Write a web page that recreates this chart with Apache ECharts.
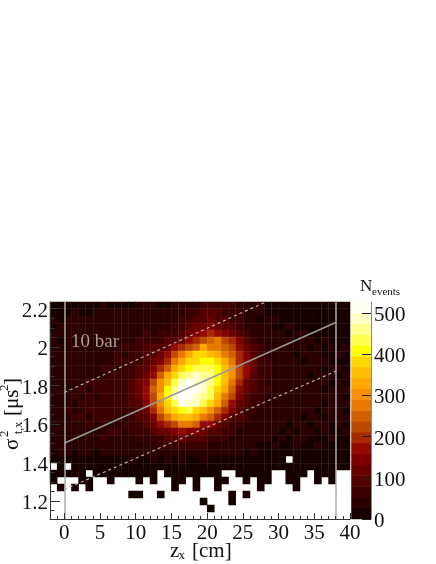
<!DOCTYPE html>
<html>
<head>
<meta charset="utf-8">
<style>html,body{margin:0;padding:0;background:#fff}#c{width:436px;height:564px}</style>
<script src="https://cdn.jsdelivr.net/npm/echarts@6/dist/echarts.min.js"></script>
</head>
<body>
<div id="c"></div>
<script>
// Bin labels (1 cm wide columns, 31 rows from the top of the plot downward)
const zBins = [-2,-1,0,1,2,3,4,5,6,7,8,9,10,11,12,13,14,15,16,17,18,19,20,21,22,23,24,25,26,27,28,29,30,31,32,33,34,35,36,37,38,39];
const rowLabels = ['r30','r29','r28','r27','r26','r25','r24','r23','r22','r21','r20','r19','r18','r17','r16','r15','r14','r13','r12','r11','r10','r9','r8','r7','r6','r5','r4','r3','r2','r1','r0'];
// Counts per cell, top row first; 0 = empty (white)
const counts = [
[22,18,20,24,19,21,25,27,23,20,24,26,29,33,28,25,24,31,36,42,47,58,70,66,74,62,49,38,30,27,24,21,18,23,20,19,22,17,21,16,19,18],
[24,21,26,28,23,25,30,32,28,27,33,35,38,41,34,31,36,44,52,60,66,83,95,88,79,71,58,45,36,29,26,23,21,25,22,20,24,19,23,25,21,20],
[28,25,30,33,27,34,38,31,35,41,37,44,39,47,43,36,30,45,62,71,84,98,112,96,88,76,63,41,29,24,31,27,22,20,24,23,26,21,18,22,24,23],
[26,31,29,35,33,38,31,42,36,40,45,38,48,44,52,37,49,58,74,90,106,128,140,122,99,82,68,52,38,34,30,26,23,27,25,22,21,24,20,26,25,22],
[30,27,33,30,36,41,35,37,44,47,41,50,46,55,48,60,57,72,92,118,145,168,190,178,145,112,87,64,47,38,35,31,28,24,27,29,26,23,25,22,24,21],
[32,24,35,31,38,36,42,45,40,48,50,47,58,64,70,72,85,100,125,165,210,235,258,280,235,190,135,95,62,45,38,32,29,33,25,28,30,24,27,21,26,23],
[29,27,34,38,33,42,37,45,50,46,55,60,68,80,85,95,130,160,195,235,262,330,285,268,240,215,170,130,90,60,46,36,31,27,34,30,25,28,22,29,24,27],
[36,30,33,40,35,39,46,43,52,58,50,64,70,80,100,125,165,220,275,320,375,385,360,320,280,250,195,150,100,70,52,41,35,30,26,33,29,34,26,23,28,22],
[33,38,31,36,42,37,44,50,47,56,62,68,75,92,112,155,205,270,330,370,395,410,415,390,325,275,205,155,110,75,55,44,32,37,29,24,31,27,30,25,22,26],
[40,34,38,43,36,48,41,54,60,52,66,72,80,105,155,195,255,325,385,415,425,440,430,405,350,295,225,165,115,70,58,40,36,29,33,27,35,30,24,28,30,24],
[35,42,39,37,47,44,52,48,63,70,64,76,92,130,180,260,330,395,430,465,480,470,455,420,365,300,230,160,105,76,54,47,34,38,31,36,26,33,28,32,25,29],
[44,38,36,50,42,58,53,61,72,57,62,80,108,145,215,290,365,425,490,505,495,480,470,415,350,270,190,130,90,64,50,43,39,30,35,28,34,27,31,24,33,26],
[41,46,52,40,55,48,66,59,74,63,68,88,112,165,240,315,400,470,515,520,505,490,440,395,320,245,180,120,85,68,57,41,36,44,32,38,30,35,25,31,28,34],
[48,43,39,57,45,62,50,72,56,68,58,84,108,170,235,330,410,475,520,515,490,470,425,350,285,215,150,105,78,55,46,39,42,33,37,29,36,28,32,27,30,25],
[37,52,44,47,60,54,70,58,66,76,70,80,105,155,225,310,385,440,505,495,475,440,385,320,250,180,125,90,66,58,43,48,35,30,40,33,27,37,26,34,29,31],
[45,40,55,49,43,65,57,74,62,58,66,68,92,130,195,270,345,395,410,430,390,360,310,255,190,140,95,74,60,47,40,36,32,38,28,35,31,25,33,29,38,24],
[38,47,42,53,58,48,62,54,71,65,52,58,80,105,150,215,270,335,360,355,320,275,250,195,145,105,80,62,50,44,37,42,29,34,30,26,36,28,24,31,27,35],
[43,35,50,45,39,56,46,60,52,48,63,57,70,85,115,170,210,235,275,280,245,170,160,130,95,75,66,48,41,36,33,28,38,25,31,34,24,29,33,23,30,26],
[33,41,36,46,51,40,49,43,55,62,47,58,54,70,85,110,130,150,170,155,135,120,105,90,70,59,52,44,34,38,30,35,26,30,22,27,32,24,28,26,23,29],
[39,30,44,35,38,47,41,53,37,45,50,42,56,50,60,75,95,105,110,100,95,80,70,60,64,48,41,37,32,29,34,25,28,23,27,31,22,26,24,30,25,21],
[28,36,32,40,34,30,43,38,46,41,37,48,44,52,47,55,62,68,72,65,60,58,50,46,42,39,36,30,33,26,24,29,21,25,28,20,23,27,19,22,26,24],
[25,30,27,24,33,29,26,35,31,28,36,34,30,38,33,41,37,44,40,38,43,36,39,32,35,30,27,24,28,22,26,19,23,20,24,18,21,25,20,17,22,19],
[18,22,24,20,17,23,26,21,19,25,22,27,24,20,28,23,30,25,27,22,26,29,24,21,25,20,23,19,22,18,20,17,21,0,19,16,20,18,22,15,17,19],
[0,14,0,12,15,11,16,13,10,14,17,12,15,11,13,16,18,14,12,15,13,17,11,14,16,10,12,15,11,13,14,10,12,9,13,11,8,12,14,10,9,11],
[7,5,8,4,6,0,5,7,3,6,4,8,5,6,7,0,6,4,5,7,3,6,8,4,0,0,5,3,6,4,7,0,0,5,3,6,0,4,5,3,0,0],
[3,0,0,0,2,4,0,0,3,0,0,0,2,0,3,0,0,2,4,0,3,0,0,2,3,0,0,4,0,2,3,0,0,2,4,0,0,3,0,2,0,0],
[0,2,0,3,0,2,0,0,0,0,0,0,0,0,0,0,0,3,0,0,2,0,0,2,0,0,0,0,0,3,0,0,0,0,2,0,0,0,0,0,0,0],
[0,0,0,0,0,0,0,0,0,0,0,2,1,0,0,2,0,0,0,0,0,0,0,0,0,1,0,2,0,0,0,0,0,0,0,0,0,0,0,0,0,0],
[0,0,0,0,0,0,0,0,0,0,0,0,0,0,0,0,0,0,0,0,0,1,0,0,0,2,0,0,0,0,0,0,0,0,0,0,0,0,0,0,0,0],
[0,0,0,0,0,0,0,0,0,0,0,0,0,0,0,0,0,0,0,0,0,0,1,0,0,0,0,0,0,0,0,0,0,0,0,0,0,0,0,0,0,0],
[0,0,0,0,0,0,0,0,0,0,0,0,0,0,0,0,0,0,0,0,0,0,0,0,0,0,0,0,0,0,0,0,0,0,0,0,0,0,0,0,0,0]
];
// Colour scale: 20 bands from 0 to scaleMax
const scaleMax = 527;
const palette = ['#170000','#2a0000','#3c0000','#520000','#690000','#800000','#920a00','#a82800','#bd4800','#d06000','#e87800','#f59000','#ffa800','#ffbe00','#ffd800','#ffff00','#ffff50','#ffff90','#ffffc8','#fffff5'];
const scaleBands = [13,39,66,92,118,145,171,197,224,250,276,303,329,356,382,408,435,461,487,514];
const bandNames = ['b0','b1','b2','b3','b4','b5','b6','b7','b8','b9','b10','b11','b12','b13','b14','b15','b16','b17','b18','b19'];
// Axes
const zRange = [-2, 40];
const sigmaRange = [1.1065, 2.2338];
const zMajor = [0,5,10,15,20,25,30,35,40];
const zMinor = [-2,-1,1,2,3,4,6,7,8,9,11,12,13,14,16,17,18,19,21,22,23,24,26,27,28,29,31,32,33,34,36,37,38,39];
const sigmaMajor = [1.2,1.4,1.6,1.8,2.0,2.2];
const sigmaMinor = [1.15,1.25,1.3,1.35,1.45,1.5,1.55,1.65,1.7,1.75,1.85,1.9,1.95,2.05,2.1,2.15];
const countTicks = [0,100,200,300,400,500];
// Drift lines and fiducial limits
const driftLine = [[0,1.5],[38,2.127]];
const upperLimit = [[0,1.764],[28.2,2.2338]];
const lowerLimit = [[0,1.26],[38,1.874]];
const cathodeAnode = [0,38];
// Faint cell seams seen across the filled region
const seamZ = [3,4,7,8,11,12,16,17,20,24,25,28,29,32,33,36,37];
const seamSigma = [2.2,2.125,2.052,1.979,1.906,1.834,1.761,1.688,1.616,1.543,1.47,1.397];

const serif = '"Liberation Serif","Times New Roman",serif';
const heat = [];
counts.forEach((row, r) => row.forEach((v, c) => { if (v > 0) heat.push([c, r, v]); }));
const barCells = scaleBands.map((v, i) => [0, i, v]);
const pieces = palette.map((color, i) => ({ min: i * scaleMax / 20, max: (i + 1) * scaleMax / 20, color }));

const seamLines = seamZ.map(z => [{coord:[z,1.36]},{coord:[z,sigmaRange[1]]}])
  .concat(seamSigma.map(s => [{coord:[zRange[0],s]},{coord:[zRange[1],s]}]));
const vertLines = cathodeAnode.map(z => [{coord:[z,sigmaRange[0]]},{coord:[z,sigmaRange[1]]}]);

const tickStyle = { color: '#333', width: 1 };
const shiftedRich = { t: { padding: [5, 0, 0, 0], color: '#111', fontFamily: serif, fontSize: 21 } };
function sigmaLabel(v){ return '{t|' + (+v.toFixed(1)) + '}'; }
function countLabel(v){ return '{t|' + v + '}'; }

const chart = echarts.init(document.getElementById('c'), null, { renderer: 'canvas' });
chart.setOption({
  animation: false,
  backgroundColor: '#fff',
  visualMap: { type: 'piecewise', show: false, seriesIndex: [0, 5], pieces, outOfRange: { color: '#fff' } },
  grid: [
    { left: 50, top: 302, width: 300, height: 217, show: false },
    { left: 351.5, top: 302, width: 19.5, height: 217, show: false }
  ],
  xAxis: [
    { type: 'category', gridIndex: 0, data: zBins, show: false },
    { type: 'value', gridIndex: 0, min: zRange[0], max: zRange[1], position: 'bottom', z: 5,
      splitLine: { show: false },
      axisLine: { show: true, onZero: false, lineStyle: { color: '#333', width: 1 } },
      axisTick: { show: true, inside: true, length: 6, lineStyle: tickStyle, customValues: zMajor },
      axisLabel: { show: true, customValues: zMajor, hideOverlap: false, showMinLabel: true, showMaxLabel: true, margin: 4, color: '#111', fontFamily: serif, fontSize: 21 } },
    { type: 'value', gridIndex: 0, min: zRange[0], max: zRange[1], position: 'bottom', z: 5,
      splitLine: { show: false },
      axisLine: { show: false, onZero: false },
      axisTick: { show: true, inside: true, length: 3, lineStyle: tickStyle, customValues: zMinor },
      axisLabel: { show: false } },
    { type: 'category', gridIndex: 1, data: ['scale'], show: false }
  ],
  yAxis: [
    { type: 'category', gridIndex: 0, data: rowLabels, inverse: true, show: false },
    { type: 'value', gridIndex: 0, min: sigmaRange[0], max: sigmaRange[1], position: 'left', z: 5,
      splitLine: { show: false },
      axisLine: { show: true, onZero: false, lineStyle: { color: '#333', width: 1 } },
      axisTick: { show: true, inside: true, length: 10, lineStyle: tickStyle, customValues: sigmaMajor },
      axisLabel: { show: true, customValues: sigmaMajor, margin: 2, rich: shiftedRich, formatter: sigmaLabel } },
    { type: 'value', gridIndex: 0, min: sigmaRange[0], max: sigmaRange[1], position: 'left', z: 5,
      splitLine: { show: false },
      axisLine: { show: false, onZero: false },
      axisTick: { show: true, inside: true, length: 4.5, lineStyle: tickStyle, customValues: sigmaMinor },
      axisLabel: { show: false } },
    { type: 'category', gridIndex: 1, data: bandNames, show: false },
    { type: 'value', gridIndex: 1, min: 0, max: scaleMax, position: 'right', z: 5,
      splitLine: { show: false },
      axisLine: { show: true, onZero: false, lineStyle: { color: '#888', width: 1 } },
      axisTick: { show: true, inside: true, length: 9, lineStyle: { color: '#222', width: 1 }, customValues: countTicks },
      axisLabel: { show: true, customValues: countTicks, margin: 3, rich: shiftedRich, formatter: countLabel } }
  ],
  series: [
    { type: 'heatmap', xAxisIndex: 0, yAxisIndex: 0, data: heat, silent: true, progressive: 0, itemStyle: { borderWidth: 0 } },
    { type: 'line', xAxisIndex: 1, yAxisIndex: 1, data: driftLine, symbol: 'none', silent: true, z: 4,
      lineStyle: { color: '#999', width: 1.5 },
      markLine: { silent: true, symbol: 'none', label: { show: false }, animation: false, z: 3,
        lineStyle: { color: 'rgba(255,255,255,0.07)', width: 1, type: 'solid' }, data: seamLines } },
    { type: 'line', xAxisIndex: 1, yAxisIndex: 1, data: upperLimit, symbol: 'none', silent: true, z: 4,
      lineStyle: { color: '#b8b0b0', width: 1.2, type: [3, 3] } },
    { type: 'line', xAxisIndex: 1, yAxisIndex: 1, data: lowerLimit, symbol: 'none', silent: true, z: 4,
      lineStyle: { color: '#b8b0b0', width: 1.2, type: [3, 3] } },
    { type: 'line', xAxisIndex: 1, yAxisIndex: 1, data: [], symbol: 'none', silent: true, z: 4,
      markLine: { silent: true, symbol: 'none', label: { show: false }, animation: false, z: 4,
        lineStyle: { color: '#aaa', width: 1.5, type: 'solid' }, data: vertLines } },
    { type: 'heatmap', xAxisIndex: 3, yAxisIndex: 3, data: barCells, silent: true, progressive: 0 }
  ],
  graphic: [
    { type: 'text', x: 71, y: 342, z: 20, silent: true, style: { text: '10 bar', fill: '#a89c9c', font: '19px ' + serif, verticalAlign: 'middle' } },
    { type: 'text', x: 360, y: 287, z: 20, silent: true, style: { text: 'N', fill: '#111', font: '17px ' + serif, verticalAlign: 'middle' } },
    { type: 'text', x: 372, y: 292, z: 20, silent: true, style: { text: 'events', fill: '#111', font: '11px ' + serif, verticalAlign: 'middle' } },
    { type: 'text', x: 170, y: 551, z: 20, silent: true, style: { text: 'z', fill: '#111', font: '21px ' + serif, verticalAlign: 'middle' } },
    { type: 'text', x: 178.5, y: 556, z: 20, silent: true, style: { text: 'x', fill: '#111', font: '13px ' + serif, verticalAlign: 'middle' } },
    { type: 'text', x: 192, y: 551, z: 20, silent: true, style: { text: '[cm]', fill: '#111', font: '21px ' + serif, verticalAlign: 'middle' } },
    { type: 'group', x: 12.5, y: 451, rotation: Math.PI / 2, z: 20, silent: true, children: [
      { type: 'text', x: 1, y: 0, style: { text: 'σ', fill: '#111', font: '21px ' + serif, verticalAlign: 'middle' } },
      { type: 'text', x: 14, y: -7.5, style: { text: '2', fill: '#111', font: '13px ' + serif, verticalAlign: 'middle' } },
      { type: 'text', x: 17, y: 6.5, style: { text: 't,x', fill: '#111', font: '12px ' + serif, verticalAlign: 'middle' } },
      { type: 'text', x: 35, y: 0, style: { text: '[μs', fill: '#111', font: '21px ' + serif, verticalAlign: 'middle' } },
      { type: 'text', x: 60, y: -7.5, style: { text: '2', fill: '#111', font: '13px ' + serif, verticalAlign: 'middle' } },
      { type: 'text', x: 66, y: 0, style: { text: ']', fill: '#111', font: '21px ' + serif, verticalAlign: 'middle' } }
    ] }
  ]
});
</script>
</body>
</html>
